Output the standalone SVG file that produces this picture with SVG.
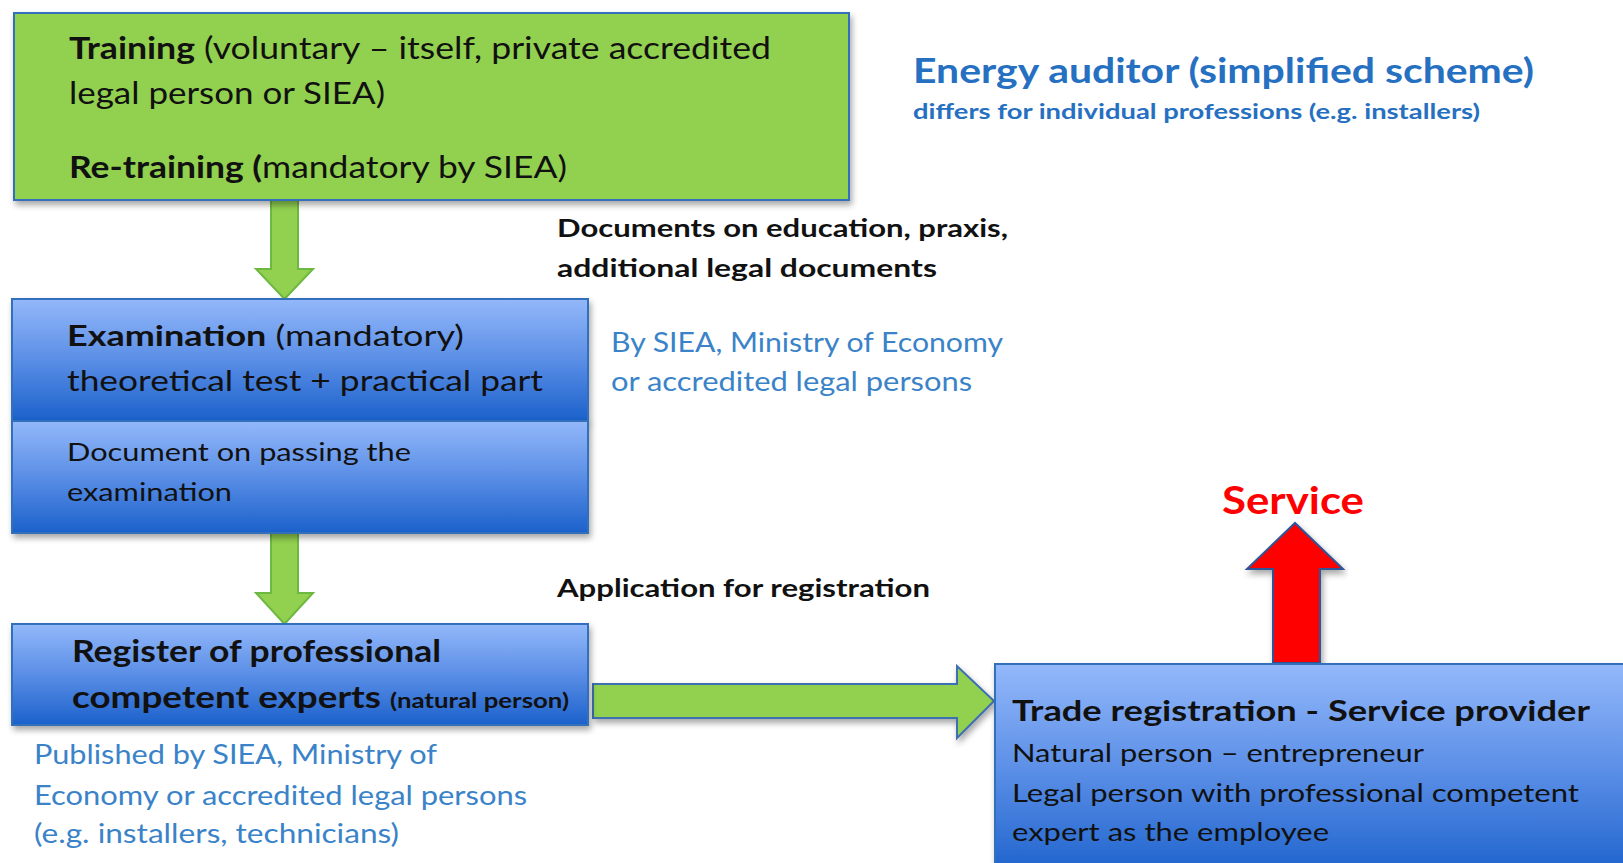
<svg xmlns="http://www.w3.org/2000/svg" width="1623" height="863" viewBox="0 0 1623 863">
<defs>
<linearGradient id="blueGrad" x1="0" y1="0" x2="0" y2="1">
<stop offset="0" stop-color="#93B8FA"/>
<stop offset="0.5" stop-color="#5A8EE6"/>
<stop offset="1" stop-color="#1B61CB"/>
</linearGradient>
<filter id="shadow" x="-5%" y="-10%" width="110%" height="130%">
<feDropShadow dx="2" dy="4" stdDeviation="3" flood-color="#000" flood-opacity="0.35"/>
</filter>
<style>
.box{stroke:#3070BC;stroke-width:2;filter:url(#shadow)}
.green{fill:#92D050}
.blue{fill:url(#blueGrad)}
.t{font-family:Lato,"Liberation Sans",sans-serif;fill:#111}
.b{font-weight:bold}
.bl{fill:#3A83C8}
.garrow{fill:#92D050;stroke:#6DB840;stroke-width:2}
</style>
</defs>
<rect width="1623" height="863" fill="#FFFFFF"/>

<g id="connectors">
<path class="garrow" d="M271,200 H298 V269 H313 L284.5,299 L256,269 H271 Z"/>
<path class="garrow" d="M271,533 H298 V593 H313 L284.5,624 L256,593 H271 Z"/>
<path d="M593,684 H957 V666 L994,701 L957,738 V718 H593 Z" fill="#92D050" stroke="#3E6FB0" stroke-width="2" filter="url(#shadow)"/>
<path d="M1273,663 V569 H1247 L1295,523 L1343,569 H1320 V663 Z" fill="#FF0000" stroke="#2F5597" stroke-width="2" filter="url(#shadow)"/>
</g>

<g id="training">
<rect class="box green" x="14" y="13" width="835" height="187"/>
<text class="t" x="69" y="59" font-size="30" textLength="702" lengthAdjust="spacingAndGlyphs"><tspan class="b">Training</tspan> (voluntary – itself, private accredited</text>
<text class="t" x="69" y="103.5" font-size="30" textLength="316" lengthAdjust="spacingAndGlyphs">legal person or SIEA)</text>
<text class="t" x="69" y="178" font-size="30" textLength="498" lengthAdjust="spacingAndGlyphs"><tspan class="b">Re-training (</tspan>mandatory by SIEA)</text>
</g>

<g id="title">
<text class="t b" x="913" y="83" font-size="34" style="fill:#2670C2" textLength="621" lengthAdjust="spacingAndGlyphs">Energy auditor (simplified scheme)</text>
<text class="t b" x="913" y="119" font-size="21" style="fill:#2670C2" textLength="567" lengthAdjust="spacingAndGlyphs">differs for individual  professions (e.g. installers)</text>
</g>

<g id="documents-label">
<text class="t b" x="557" y="237" font-size="25" textLength="451" lengthAdjust="spacingAndGlyphs">Documents on education, praxis,</text>
<text class="t b" x="557" y="277" font-size="25" textLength="380" lengthAdjust="spacingAndGlyphs">additional legal documents</text>
</g>

<g id="examination">
<rect class="box blue" x="12" y="299" width="576" height="122"/>
<rect class="box blue" x="12" y="421" width="576" height="112"/>
<text class="t" x="67" y="346" font-size="29" textLength="397" lengthAdjust="spacingAndGlyphs"><tspan class="b">Examination</tspan>  (mandatory)</text>
<text class="t" x="67" y="391" font-size="29" textLength="476" lengthAdjust="spacingAndGlyphs">theoretical test + practical part</text>
<text class="t" x="67" y="461" font-size="25" textLength="344" lengthAdjust="spacingAndGlyphs">Document on passing the</text>
<text class="t" x="67" y="501" font-size="25" textLength="165" lengthAdjust="spacingAndGlyphs">examination</text>
</g>

<g id="by-siea">
<text class="t bl" x="611" y="352" font-size="26" textLength="392" lengthAdjust="spacingAndGlyphs">By SIEA, Ministry of Economy</text>
<text class="t bl" x="611" y="391" font-size="26" textLength="361" lengthAdjust="spacingAndGlyphs">or accredited legal persons</text>
</g>

<g id="application-label">
<text class="t b" x="557" y="597" font-size="25" textLength="373" lengthAdjust="spacingAndGlyphs">Application for registration</text>
</g>

<g id="register">
<rect class="box blue" x="12" y="624" width="576" height="101"/>
<text class="t b" x="72" y="662" font-size="30" textLength="369" lengthAdjust="spacingAndGlyphs">Register of professional</text>
<text class="t b" x="72" y="708" font-size="30" textLength="497" lengthAdjust="spacingAndGlyphs">competent experts <tspan font-size="21">(natural person)</tspan></text>
</g>

<g id="published">
<text class="t bl" x="34" y="764" font-size="26" textLength="403" lengthAdjust="spacingAndGlyphs">Published by SIEA, Ministry of</text>
<text class="t bl" x="34" y="805" font-size="26" textLength="493" lengthAdjust="spacingAndGlyphs">Economy or accredited legal persons</text>
<text class="t bl" x="34" y="843" font-size="26" textLength="365" lengthAdjust="spacingAndGlyphs">(e.g. installers, technicians)</text>
</g>

<g id="service">
<text class="t b" x="1222" y="514" font-size="38" style="fill:#FF0000" textLength="142" lengthAdjust="spacingAndGlyphs">Service</text>
</g>

<g id="trade">
<rect class="box blue" x="995" y="664" width="640" height="215"/>
<text class="t b" x="1012" y="721" font-size="29" textLength="578" lengthAdjust="spacingAndGlyphs">Trade registration  - Service provider</text>
<text class="t" x="1012" y="762" font-size="25" textLength="412" lengthAdjust="spacingAndGlyphs">Natural person – entrepreneur</text>
<text class="t" x="1012" y="802" font-size="25" textLength="567" lengthAdjust="spacingAndGlyphs">Legal person with professional competent</text>
<text class="t" x="1012" y="841" font-size="25" textLength="317" lengthAdjust="spacingAndGlyphs">expert as the employee</text>
</g>
</svg>
